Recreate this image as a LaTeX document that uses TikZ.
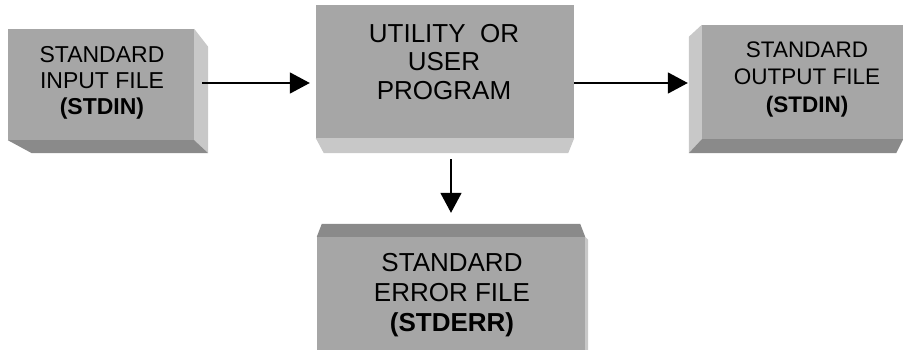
\documentclass[tikz,border=0pt]{standalone}
\usepackage{fontspec}
\setmainfont{Liberation Sans}
\usetikzlibrary{arrows.meta,calc}
\definecolor{faceg}{RGB}{166,166,166}
\definecolor{lightg}{RGB}{200,200,200}
\definecolor{darkg}{RGB}{138,138,138}
\begin{document}
\begin{tikzpicture}[x=1pt,y=-1pt,
  front/.style={fill=faceg, draw=none, inner sep=0pt, rectangle},
  lightface/.style={fill=lightg, draw=none},
  darkface/.style={fill=darkg, draw=none},
  txt/.style={align=center, inner sep=0pt, text=black},
  arr/.style={line width=1.8pt, -{Triangle[length=20pt,width=21pt]}}]
\useasboundingbox (0,0) rectangle (903,350);
% front faces
\node[front, minimum width=186pt, minimum height=111pt] (L) at (101,84.5) {};
\node[front, minimum width=258pt, minimum height=133pt] (C) at (445,71.5) {};
\node[front, minimum width=201pt, minimum height=114pt] (R) at (802.5,82) {};
\node[front, minimum width=268pt, minimum height=113pt] (B) at (451,293.5) {};
% bevels
\fill[lightface] (L.north east) -- ++(14,18) -- ($(L.south east)+(14,13)$) -- (L.south east) -- cycle;
\fill[darkface] (L.south west) -- (L.south east) -- ++(14,13) -- ($(L.south west)+(24,13)$) -- cycle;
\fill[lightface] (C.south west) -- (C.south east) -- ++(-6,15) -- ($(C.south west)+(8,15)$) -- cycle;
\fill[lightface] (R.north west) -- ++(-13,12) -- ($(R.south west)+(-13,14)$) -- (R.south west) -- cycle;
\fill[darkface] (R.south west) -- (R.south east) -- ++(-7,14) -- ($(R.south west)+(-13,14)$) -- cycle;
\fill[darkface] (B.north west) -- (B.north east) -- ++(-5,-13) -- ($(B.north west)+(5,-13)$) -- cycle;
\fill[lightface] (B.north east) -- ++(3,3) -- ($(B.south east)+(3,0)$) -- (B.south east) -- cycle;
% texts
\node[txt, font=\fontsize{23}{26}\selectfont] (Lt) at (102,83) {STANDARD\\INPUT FILE\\\textbf{(STDIN)}};
\node[txt, font=\fontsize{26}{28.5}\selectfont] (Ct) at (444,62) {UTILITY~~OR\\USER\\PROGRAM};
\node[txt, font=\fontsize{22.5}{27.5}\selectfont] (Rt) at (807,79) {STANDARD\\OUTPUT FILE\\\textbf{(STDIN)}};
\node[txt, font=\fontsize{26}{30}\selectfont] (Bt) at (452,295.5) {STANDARD\\ERROR FILE\\\textbf{(STDERR)}};
% arrows
\draw[arr] ($(L.east)+(8,-1.5)$) -- ($(C.west |- L.east)+(-6,-1.5)$);
\draw[arr] ($(C.east |- L.east)+(0,-1.5)$) -- ($(R.west |- L.east)+(-14,-1.5)$);
\draw[arr] ($(C.south -| B.north)+(0,21)$) -- ($(B.north)+(0,-24)$);
\end{tikzpicture}
\end{document}
